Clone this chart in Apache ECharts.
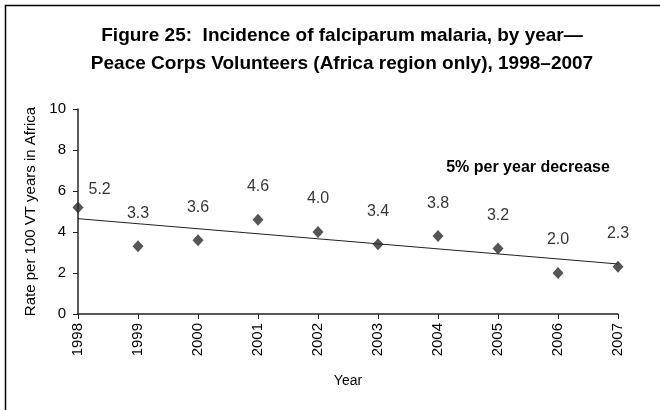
<!DOCTYPE html>
<html>

<head>
    <meta charset="UTF-8" />
    <title>Figure 25</title>
    <script src="https://cdn.jsdelivr.net/npm/echarts@6/dist/echarts.min.js"></script>
    <style>
        body { margin: 0; background: #fff; }
        #chart { width: 660px; height: 410px; }
    </style>
</head>

<body>
    <div id="chart"></div>

    <script type="text/javascript">
        // data
        let years = ['1998', '1999', '2000', '2001', '2002', '2003', '2004', '2005', '2006', '2007'];
        let rates = [5.2, 3.3, 3.6, 4.6, 4.0, 3.4, 3.8, 3.2, 2.0, 2.3];
        // linear trend line, end points
        let trendYears = ['1998', '2007'];
        let trendValues = [4.65, 2.44];
        let yTicks = [0, 2, 4, 6, 8, 10];

        let font = 'Liberation Sans, Arial, sans-serif';
        let chart = echarts.init(document.getElementById('chart'), null, { renderer: 'canvas' });

        let pointData = rates.map((v, i) => {
            let item = { value: [years[i], v] };
            // first label sits to the right of the marker
            if (i === 0) {
                item.label = { position: 'right', offset: [-14, -18] };
            }
            return item;
        });

        let option = {
            animation: false,
            backgroundColor: '#fff',
            textStyle: { fontFamily: font },
            title: [
                {
                    text: 'Figure 25:  Incidence of falciparum malaria, by year\u2014\nPeace Corps Volunteers (Africa region only), 1998\u20132007',
                    left: 337,
                    top: 17,
                    textAlign: 'center',
                    textStyle: { fontFamily: font, fontSize: 19, fontWeight: 'bold', color: '#000', lineHeight: 28, align: 'center' }
                },
                {
                    text: '5% per year decrease',
                    left: 523,
                    top: 155,
                    textAlign: 'center',
                    textStyle: { fontFamily: font, fontSize: 16, fontWeight: 'bold', color: '#000' }
                }
            ],
            graphic: [
                {
                    type: 'rect',
                    shape: { x: 5.5, y: 5.5, width: 700, height: 500 },
                    style: { fill: 'none', stroke: '#000', lineWidth: 1.5 },
                    silent: true
                }
            ],
            grid: { left: 78, right: 42, top: 109, bottom: 96 },
            xAxis: {
                type: 'category',
                data: years,
                boundaryGap: false,
                name: 'Year',
                nameLocation: 'middle',
                nameGap: 60,
                nameTextStyle: { fontFamily: font, fontSize: 14, color: '#000' },
                axisLine: { lineStyle: { color: '#222', width: 1.5 } },
                axisTick: { alignWithLabel: true, length: 5, lineStyle: { color: '#222' } },
                axisLabel: { rotate: 90, fontFamily: font, fontSize: 15, color: '#000', margin: 9 },
                splitLine: { show: false }
            },
            yAxis: {
                type: 'value',
                min: yTicks[0],
                max: yTicks[yTicks.length - 1],
                interval: 2,
                name: 'Rate per 100 VT years in Africa',
                nameLocation: 'middle',
                nameGap: 33,
                nameTextStyle: { fontFamily: font, fontSize: 15, color: '#000' },
                axisLine: { show: true, lineStyle: { color: '#222', width: 1.5 } },
                axisTick: { show: true, length: 5, lineStyle: { color: '#222' } },
                axisLabel: { fontFamily: font, fontSize: 15, color: '#000', margin: 12 },
                splitLine: { show: false }
            },
            series: [
                {
                    name: 'trend',
                    type: 'line',
                    data: trendYears.map((y, i) => [y, trendValues[i]]),
                    symbol: 'none',
                    lineStyle: { color: '#222', width: 1 },
                    silent: true,
                    z: 1
                },
                {
                    name: 'rate',
                    type: 'scatter',
                    data: pointData,
                    symbol: 'diamond',
                    symbolSize: [11, 12],
                    itemStyle: { color: '#2a2a2a' },
                    label: {
                        show: true,
                        position: 'top',
                        distance: 19,
                        fontFamily: font,
                        fontSize: 16,
                        color: '#000',
                        formatter: p => p.value[1].toFixed(1)
                    },
                    z: 2
                }
            ]
        };
        chart.setOption(option);
    </script>
</body>

</html>
